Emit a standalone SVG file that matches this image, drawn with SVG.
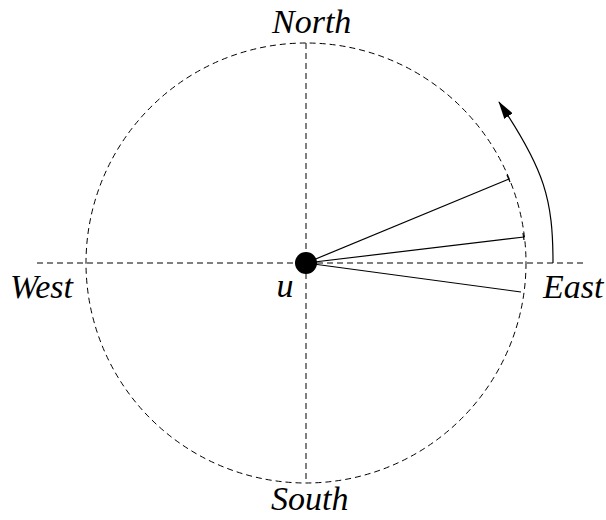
<svg xmlns="http://www.w3.org/2000/svg" width="606" height="520" viewBox="0 0 606 520">
<style>
.d{fill:none;stroke:#000;stroke-width:1;stroke-dasharray:6,4}
.s{fill:none;stroke:#000;stroke-width:1.2}
</style>
<defs>
<marker id="ah" markerWidth="18" markerHeight="10" refX="17" refY="5" orient="auto" markerUnits="userSpaceOnUse">
<path d="M0,0 L18,5 L0,10 Z" fill="#000"/>
</marker>
</defs>
<g id="compass">
<circle class="d" cx="306" cy="263" r="220"/>
<line class="d" x1="37" y1="263" x2="587" y2="263"/>
<line class="d" x1="306" y1="43" x2="306" y2="483"/>
</g>
<g id="connectors">
<line class="s" x1="306" y1="263" x2="509" y2="179"/>
<line class="s" x1="507" y1="175" x2="510" y2="182"/>
<line class="s" x1="306" y1="263" x2="524" y2="237"/>
<line class="s" x1="523" y1="233" x2="524" y2="240"/>
<line class="s" x1="306" y1="263" x2="521" y2="292"/>
<path class="s" d="M553,263 C553,200 545,170 499,102" marker-end="url(#ah)"/>
</g>
<g font-family="Liberation Serif, serif" font-style="italic" font-size="34" fill="#000">
<g id="u">
<circle cx="306" cy="263" r="11" fill="#000"/>
<text x="285" y="297" text-anchor="middle">u</text>
</g>
<g id="north"><text x="272" y="33">North</text></g>
<g id="south"><text x="271" y="510">South</text></g>
<g id="west"><text x="10" y="298">West</text></g>
<g id="east"><text x="543" y="298">East</text></g>
</g>
</svg>
